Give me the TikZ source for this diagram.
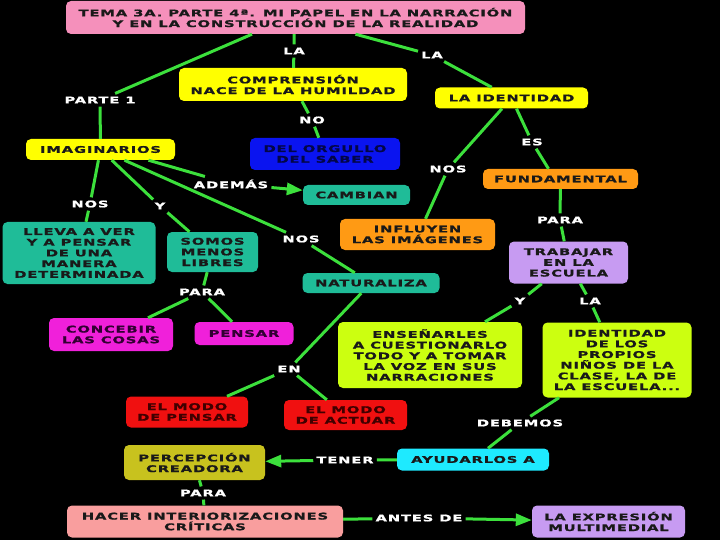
\documentclass[tikz,border=0pt]{standalone}
\usepackage{fontspec}
\usetikzlibrary{arrows.meta}
\newfontfamily\mapafont[FakeStretch=1.6,LetterSpace=9,FakeBold=1.2]{DejaVu Sans Bold}
\definecolor{verdeLinea}{HTML}{3CE03C}
\definecolor{rosaTema}{HTML}{F590BB}
\definecolor{amarillo}{HTML}{FFFF00}
\definecolor{azul}{HTML}{0A14F0}
\definecolor{turquesa}{HTML}{1FBC98}
\definecolor{naranja}{HTML}{FF9A14}
\definecolor{lila}{HTML}{C79BF2}
\definecolor{fucsia}{HTML}{F020DA}
\definecolor{lima}{HTML}{CCFF10}
\definecolor{rojo}{HTML}{F01010}
\definecolor{oliva}{HTML}{C8C21E}
\definecolor{cian}{HTML}{1EEAFF}
\definecolor{salmon}{HTML}{F99E9E}
\tikzset{
  concepto/.style={rounded corners=5pt, align=center, text=black!90, inner sep=1pt,
    font=\mapafont\fontsize{9.2}{10.7}\selectfont},
  enlace/.style={text=white, inner sep=3pt, font=\mapafont\fontsize{9.2}{10.7}\selectfont},
  linea/.style={draw=verdeLinea, line width=3pt},
  flecha/.style={linea, -{Triangle[length=16pt,width=12pt]}},
}
\begin{document}
\begin{tikzpicture}[x=1pt,y=-1pt]
  \fill[black] (0,0) rectangle (720,540);

  \node[concepto, fill=rosaTema, minimum width=459pt, minimum height=33pt] (tema) at (295.5,17.5) {TEMA 3A. PARTE 4ª. MI PAPEL EN LA NARRACIÓN\\Y EN LA CONSTRUCCIÓN DE LA REALIDAD};
  \node[concepto, fill=amarillo, minimum width=228pt, minimum height=33pt] (compren) at (293,84.5) {COMPRENSIÓN\\NACE DE LA HUMILDAD};
  \node[concepto, fill=amarillo, minimum width=153pt, minimum height=21pt] (identidad) at (511.5,98) {LA IDENTIDAD};
  \node[concepto, fill=amarillo, minimum width=149pt, minimum height=21pt] (imagin) at (100.5,149.5) {IMAGINARIOS};
  \node[concepto, fill=azul, text=black!70!azul, minimum width=150pt, minimum height=32pt] (orgullo) at (325,154) {DEL ORGULLO\\DEL SABER};
  \node[concepto, fill=turquesa, minimum width=107pt, minimum height=20pt] (cambian) at (356.5,195) {CAMBIAN};
  \node[concepto, fill=naranja, minimum width=155pt, minimum height=20pt] (fundam) at (560.5,179) {FUNDAMENTAL};
  \node[concepto, fill=turquesa, minimum width=153pt, minimum height=62pt] (lleva) at (79,253) {LLEVA A VER\\Y A PENSAR\\DE UNA\\MANERA\\DETERMINADA};
  \node[concepto, fill=turquesa, minimum width=91pt, minimum height=40pt] (somos) at (212.5,252) {SOMOS\\MENOS\\LIBRES};
  \node[concepto, fill=naranja, minimum width=155pt, minimum height=31pt] (influyen) at (417.5,234.5) {INFLUYEN\\LAS IMÁGENES};
  \node[concepto, fill=lila, minimum width=119pt, minimum height=42pt] (trabajar) at (568.5,262.5) {TRABAJAR\\EN LA\\ESCUELA};
  \node[concepto, fill=turquesa, minimum width=137pt, minimum height=20pt] (natural) at (371,283) {NATURALIZA};
  \node[concepto, fill=fucsia, text=black!60!violet, minimum width=124pt, minimum height=33pt] (concebir) at (111,334.5) {CONCEBIR\\LAS COSAS};
  \node[concepto, fill=fucsia, text=black!60!violet, minimum width=99pt, minimum height=23pt] (pensar) at (244,333.5) {PENSAR};
  \node[concepto, fill=lima, minimum width=184pt, minimum height=66pt] (ensenar) at (430,355) {ENSEÑARLES\\A CUESTIONARLO\\TODO Y A TOMAR\\LA VOZ EN SUS\\NARRACIONES};
  \node[concepto, fill=lima, minimum width=149pt, minimum height=75pt] (idpropios) at (617,360) {IDENTIDAD\\DE LOS\\PROPIOS\\NIÑOS DE LA\\CLASE, LA DE\\LA ESCUELA...};
  \node[concepto, fill=rojo, text=black!75!red, minimum width=122pt, minimum height=31pt] (modopen) at (187,412) {EL MODO\\DE PENSAR};
  \node[concepto, fill=rojo, text=black!75!red, minimum width=123pt, minimum height=30pt] (modoact) at (345.5,415) {EL MODO\\DE ACTUAR};
  \node[concepto, fill=oliva, minimum width=141pt, minimum height=35pt] (percep) at (194.5,462.5) {PERCEPCIÓN\\CREADORA};
  \node[concepto, fill=cian, minimum width=152pt, minimum height=22pt] (ayudar) at (473,459.5) {AYUDARLOS A};
  \node[concepto, fill=salmon, minimum width=276pt, minimum height=32pt] (hacer) at (205,521.5) {HACER INTERIORIZACIONES\\CRÍTICAS};
  \node[concepto, fill=lila, minimum width=153pt, minimum height=32pt] (expres) at (608.5,521.5) {LA EXPRESIÓN\\MULTIMEDIAL};

  \node[enlace] (lLa1) at (294,51) {LA};
  \node[enlace] (lLa2) at (432,55) {LA};
  \node[enlace] (lParte) at (100,100) {PARTE 1};
  \node[enlace] (lNo) at (312,120) {NO};
  \node[enlace] (lNos1) at (448,169) {NOS};
  \node[enlace] (lEs) at (532,142) {ES};
  \node[enlace] (lAdemas) at (231,184) {ADEMÁS};
  \node[enlace] (lNos2) at (90,204) {NOS};
  \node[enlace] (lY1) at (160,206) {Y};
  \node[enlace] (lNos3) at (301,239) {NOS};
  \node[enlace] (lPara1) at (560,220) {PARA};
  \node[enlace] (lPara2) at (202,292) {PARA};
  \node[enlace] (lY2) at (520,301) {Y};
  \node[enlace] (lLa3) at (590,301) {LA};
  \node[enlace] (lEn) at (289,369) {EN};
  \node[enlace] (lDebemos) at (520,423) {DEBEMOS};
  \node[enlace] (lTener) at (345,460) {TENER};
  \node[enlace] (lPara3) at (203,493) {PARA};
  \node[enlace] (lAntes) at (419,518) {ANTES DE};

  \draw[linea] ([xshift=-43.5pt]tema.south) -- (lParte) -- (imagin);
  \draw[linea] (tema.south -| lLa1) -- (lLa1) -- (compren);
  \draw[linea] ([xshift=60pt]tema.south) -- (lLa2) -- (identidad);
  \draw[linea] (compren) -- (lNo) -- (orgullo);
  \draw[linea] (identidad) -- (lNos1) -- ([xshift=8pt]influyen.north);
  \draw[linea] (identidad) -- (lEs) -- ([xshift=-12pt]fundam.north);
  \draw[linea] ([xshift=48pt]imagin.south) -- (lAdemas);
  \draw[flecha] (lAdemas) -- (cambian);
  \draw[linea] (imagin) -- (lNos2) -- (lleva);
  \draw[linea] (imagin) -- (lY1) -- (somos);
  \draw[linea] (imagin) -- (lNos3) -- (natural);
  \draw[linea] (fundam) -- (lPara1) -- (trabajar);
  \draw[linea] (somos) -- (lPara2);
  \draw[linea] (lPara2) -- ([xshift=37pt]concebir.north);
  \draw[linea] (lPara2) -- (pensar);
  \draw[linea] (trabajar) -- (lY2) -- ([xshift=55pt]ensenar.north);
  \draw[linea] (trabajar) -- (lLa3) -- (idpropios);
  \draw[linea] (natural) -- (lEn);
  \draw[linea] (lEn) -- ([xshift=40pt]modopen.north);
  \draw[linea] (lEn) -- (modoact);
  \draw[linea] (idpropios) -- (lDebemos) -- ([xshift=15pt]ayudar.north);
  \draw[linea] (ayudar) -- (lTener);
  \draw[flecha] (lTener) -- (percep);
  \draw[linea] (percep) -- (lPara3) -- (hacer);
  \draw[linea] (hacer) -- (lAntes);
  \draw[flecha] (lAntes) -- (expres);
\end{tikzpicture}
\end{document}
